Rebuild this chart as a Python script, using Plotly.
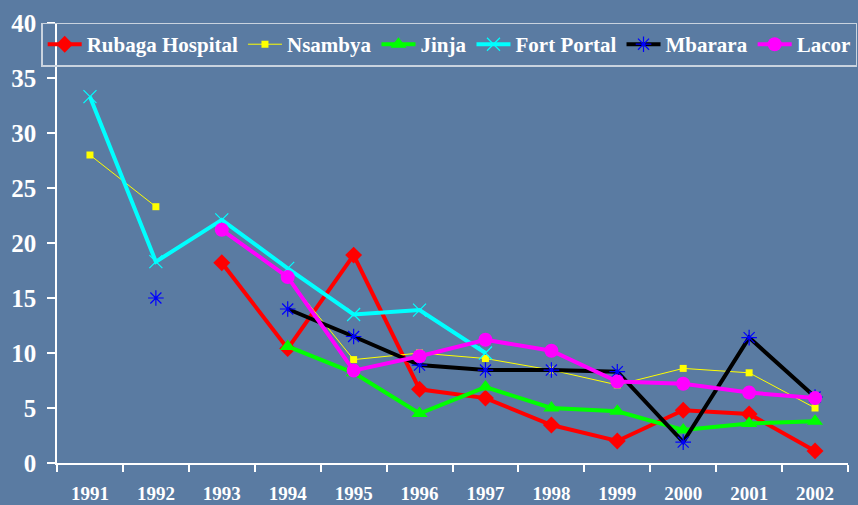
import plotly.graph_objects as go

years = ["1991", "1992", "1993", "1994", "1995", "1996", "1997", "1998", "1999", "2000", "2001", "2002"]

rubaga = [None, None, 18.2, 10.4, 18.9, 6.7, 5.9, 3.45, 2.0, 4.8, 4.45, 1.1]
nsambya = [28.0, 23.3, None, 16.8, 9.4, 10.0, 9.5, 8.45, 7.1, 8.6, 8.2, 5.0]
jinja = [None, None, None, 10.6, 8.2, 4.5, 6.9, 5.0, 4.7, 3.0, 3.6, 3.8]
fort_portal = [33.3, 18.3, 22.1, 17.7, 13.5, 13.9, 10.0, None, None, None, None, None]
mbarara = [None, 15.0, None, 14.0, 11.5, 8.9, 8.45, 8.45, 8.3, 1.9, 11.4, 6.0]
lacor = [None, None, 21.2, 16.9, 8.4, 9.7, 11.2, 10.2, 7.4, 7.2, 6.4, 5.9]

y_ticks = [0, 5, 10, 15, 20, 25, 30, 35, 40]

fig = go.Figure()

series = [
    ("Rubaga Hospital", rubaga, dict(color="#ff0000", width=4),
     dict(symbol="diamond", size=13, color="#ff0000")),
    ("Nsambya", nsambya, dict(color="#ffff00", width=1),
     dict(symbol="square", size=7, color="#ffff00")),
    ("Jinja", jinja, dict(color="#00ff00", width=4),
     dict(symbol="triangle-up", size=14, color="#00ff00")),
    ("Fort Portal", fort_portal, dict(color="#00ffff", width=4),
     dict(symbol="x-thin-open", size=13, color="#00ffff", line=dict(color="#00ffff", width=1.2))),
    ("Mbarara", mbarara, dict(color="#000000", width=4),
     dict(symbol="asterisk-open", size=13, color="#0000ff", line=dict(color="#0000ff", width=1.2))),
    ("Lacor", lacor, dict(color="#ff00ff", width=4),
     dict(symbol="circle", size=14, color="#ff00ff")),
]

for name, vals, line, marker in series:
    fig.add_trace(go.Scatter(
        x=years, y=vals, name=name, mode="lines+markers",
        line=line, marker=marker, connectgaps=False,
    ))

tick_font = dict(family="Liberation Serif", color="white", weight="bold")

fig.update_layout(
    width=858, height=505,
    paper_bgcolor="#5a7ba2",
    plot_bgcolor="rgba(0,0,0,0)",
    margin=dict(l=57, r=10, t=23, b=42, autoexpand=False),
    showlegend=True,
    legend=dict(
        orientation="h",
        x=-0.02, xanchor="left",
        y=1.001, yanchor="top",
        bgcolor="rgba(0,0,0,0)",
        bordercolor="#c9d3df", borderwidth=1.5,
        font=dict(family="Liberation Serif", size=21, color="white", weight="bold"),
        itemwidth=34,
        tracegroupgap=0,
    ),
    xaxis=dict(
        type="category",
        categoryorder="array", categoryarray=years,
        range=[-0.5, 11.5],
        showgrid=False, zeroline=False,
        showline=True, linecolor="white", linewidth=1.5,
        ticks="outside", tickson="boundaries", ticklen=7, tickcolor="white", tickwidth=1.5,
        tickfont=dict(size=19, **tick_font),
        ticklabelstandoff=12,
    ),
    yaxis=dict(
        range=[0, 40],
        tickvals=y_ticks,
        showgrid=False, zeroline=False,
        showline=True, linecolor="white", linewidth=1.5,
        ticks="outside", ticklen=8, tickcolor="white", tickwidth=1.5,
        tickfont=dict(size=25, **tick_font),
        ticklabelstandoff=6,
    ),
)

fig.write_html(
    "out.html",
    config={"displayModeBar": False},
    post_script="document.body.style.margin='0';document.body.style.overflow='hidden';",
)
